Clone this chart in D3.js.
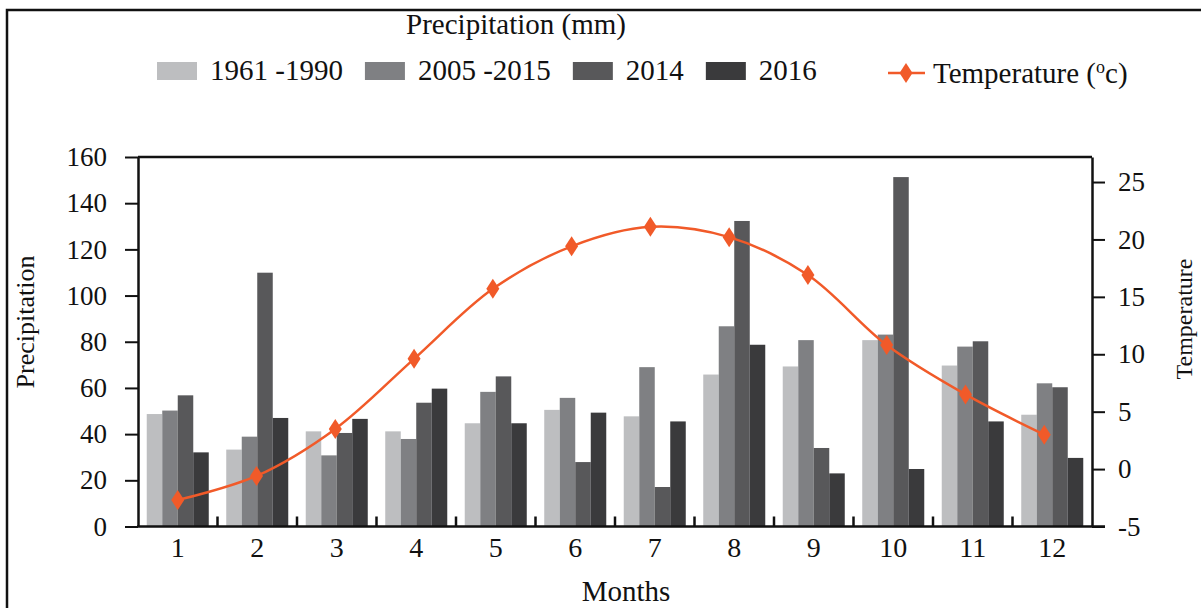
<!DOCTYPE html>
<html>
<head>
<meta charset="utf-8">
<script src="https://cdn.jsdelivr.net/npm/d3@7"></script>
<style>
  html, body { margin: 0; padding: 0; background: #fff; }
  svg { display: block; font-family: "Liberation Serif", "Times New Roman", serif; }
</style>
</head>
<body>
<div id="chart"></div>
<script>
const months = [1, 2, 3, 4, 5, 6, 7, 8, 9, 10, 11, 12];
const seriesNames = ["1961 -1990", "2005 -2015", "2014", "2016"];
const barColors = ["#BDBEC0", "#7F8083", "#58585A", "#3A3A3C"];

// precipitation (mm)
const p1961 = [48.7, 33.3, 41.2, 41.2, 44.7, 50.5, 47.7, 65.8, 69.3, 80.7, 69.7, 48.4];
const p2005 = [50.2, 38.9, 30.8, 37.9, 58.3, 55.7, 69.0, 86.7, 80.7, 83.1, 77.9, 62.0];
const p2014 = [56.8, 109.9, 40.5, 53.6, 65.0, 27.9, 17.1, 132.3, 34.0, 151.3, 80.2, 60.3];
const p2016 = [32.1, 47.0, 46.6, 59.7, 44.7, 49.3, 45.5, 78.7, 23.0, 24.9, 45.5, 29.7];
const precip = [p1961, p2005, p2014, p2016];

// temperature (°C)
const temperature = [-2.7, -0.6, 3.5, 9.6, 15.7, 19.4, 21.1, 20.2, 16.9, 10.8, 6.5, 3.0];

const precipTicks = [0, 20, 40, 60, 80, 100, 120, 140, 160];
const tempTicks = [-5, 0, 5, 10, 15, 20, 25];

const ORANGE = "#F15A29";
const FONT = "Liberation Serif";
const W = 1201, H = 608;
const PLOT = { left: 138, right: 1092, top: 157, bottom: 526.5 };

const svg = d3.select("#chart")
  .append("svg")
  .attr("width", W)
  .attr("height", H)
  .attr("font-family", FONT);

// outer frame (left + top edges visible)
svg.append("path")
  .attr("d", `M7,${H} V10 H${W}`)
  .attr("fill", "none")
  .attr("stroke", "#111")
  .attr("stroke-width", 2.5);

// ── Scales ──
const x = d3.scaleBand()
  .domain(months)
  .range([PLOT.left, PLOT.right])
  .paddingInner(0.22)
  .paddingOuter(0.11);

const xSub = d3.scaleBand()
  .domain(d3.range(seriesNames.length))
  .range([0, x.bandwidth()]);

const y = d3.scaleLinear().domain([0, 160]).range([PLOT.bottom, PLOT.top]);
const yT = d3.scaleLinear().domain([-5, 27.18]).range([PLOT.bottom, PLOT.top]);

// temperature points sit slightly left of the group centres
const xT = d3.scalePoint()
  .domain(months)
  .range([x(1) + x.bandwidth() / 2, x(12) + x.bandwidth() / 2 - 8]);

// ── Bars ──
const groups = svg.append("g").attr("class", "bars")
  .selectAll("g")
  .data(months)
  .join("g")
  .attr("transform", d => `translate(${x(d)},0)`);

groups.selectAll("rect")
  .data((m, i) => precip.map((s, k) => ({ k, v: s[i] })))
  .join("rect")
  .attr("x", d => xSub(d.k))
  .attr("width", xSub.bandwidth())
  .attr("y", d => y(d.v))
  .attr("height", d => y(0) - y(d.v))
  .attr("fill", d => barColors[d.k]);

// ── Temperature line ──
const line = d3.line()
  .x((d, i) => xT(months[i]))
  .y(d => yT(d))
  .curve(d3.curveCatmullRom.alpha(0.5));

svg.append("path")
  .datum(temperature)
  .attr("d", line)
  .attr("fill", "none")
  .attr("stroke", ORANGE)
  .attr("stroke-width", 2.5);

const diamond = (w, h) => `M0,${-h / 2} L${w / 2},0 L0,${h / 2} L${-w / 2},0 Z`;

svg.append("g").selectAll("path")
  .data(temperature)
  .join("path")
  .attr("transform", (d, i) => `translate(${xT(months[i])},${yT(d)})`)
  .attr("d", diamond(13, 20))
  .attr("fill", ORANGE);

// ── Axes ──
const axisLeft = svg.append("g")
  .attr("transform", `translate(${PLOT.left},0)`)
  .call(d3.axisLeft(y).tickValues(precipTicks).tickSize(13).tickSizeOuter(0).tickPadding(18));

const axisRight = svg.append("g")
  .attr("transform", `translate(${PLOT.right},0)`)
  .call(d3.axisRight(yT).tickValues(tempTicks).tickSize(13).tickSizeOuter(0).tickPadding(13)
    .tickFormat(d => d < 0 ? "-" + Math.abs(d) : d));

[axisLeft, axisRight].forEach(a => {
  a.attr("font-family", FONT).attr("font-size", 27);
  a.select(".domain").attr("stroke", "#111").attr("stroke-width", 2.5);
  a.selectAll(".tick line").attr("stroke", "#111").attr("stroke-width", 2);
  a.selectAll(".tick text").attr("fill", "#111");
});

// top edge of plot
svg.append("line")
  .attr("x1", PLOT.left).attr("x2", PLOT.right)
  .attr("y1", PLOT.top).attr("y2", PLOT.top)
  .attr("stroke", "#111").attr("stroke-width", 2.5);

// bottom axis: line, inward ticks between months, labels
svg.append("line")
  .attr("x1", PLOT.left - 1).attr("x2", PLOT.right + 13)
  .attr("y1", PLOT.bottom).attr("y2", PLOT.bottom)
  .attr("stroke", "#111").attr("stroke-width", 2.5);

svg.append("g").selectAll("line")
  .data(months.slice(1))
  .join("line")
  .attr("x1", d => x(d) - x.step() * x.paddingInner() / 2)
  .attr("x2", d => x(d) - x.step() * x.paddingInner() / 2)
  .attr("y1", PLOT.bottom)
  .attr("y2", PLOT.bottom - 10)
  .attr("stroke", "#111")
  .attr("stroke-width", 2.5);

svg.append("g").selectAll("text")
  .data(months)
  .join("text")
  .attr("x", d => x(d) + x.bandwidth() / 2)
  .attr("y", 557)
  .attr("text-anchor", "middle")
  .style("font-size", "28px")
  .attr("fill", "#111")
  .text(d => d);

// ── Axis titles ──
svg.append("text")
  .attr("x", 626).attr("y", 601)
  .attr("text-anchor", "middle")
  .style("font-size", "29px")
  .attr("fill", "#111")
  .text("Months");

svg.append("text")
  .attr("transform", "translate(34,322) rotate(-90)")
  .attr("text-anchor", "middle")
  .style("font-size", "26px")
  .attr("fill", "#111")
  .text("Precipitation");

svg.append("text")
  .attr("transform", "translate(1192,319) rotate(-90)")
  .attr("text-anchor", "middle")
  .style("font-size", "24px")
  .attr("fill", "#111")
  .text("Temperature");

// ── Legend ──
svg.append("text")
  .attr("x", 516).attr("y", 34)
  .attr("text-anchor", "middle")
  .style("font-size", "29px")
  .attr("fill", "#111")
  .text("Precipitation (mm)");

const legend = svg.append("g").attr("class", "legend");
let lx = 157;
seriesNames.forEach((name, k) => {
  legend.append("rect")
    .attr("x", lx).attr("y", 62)
    .attr("width", 40).attr("height", 18)
    .attr("fill", barColors[k]);
  const t = legend.append("text")
    .attr("x", lx + 53).attr("y", 80)
    .style("font-size", "29px")
    .attr("fill", "#111")
    .text(name);
  lx += 53 + t.node().getComputedTextLength() + 22;
});

legend.append("line")
  .attr("x1", 888).attr("x2", 925)
  .attr("y1", 73).attr("y2", 73)
  .attr("stroke", ORANGE).attr("stroke-width", 2.5);
legend.append("path")
  .attr("transform", "translate(906,73)")
  .attr("d", diamond(13, 20))
  .attr("fill", ORANGE);

const tl = legend.append("text")
  .attr("x", 933).attr("y", 83)
  .style("font-size", "29px")
  .attr("fill", "#111");
tl.append("tspan").text("Temperature (");
tl.append("tspan").attr("dy", -10).style("font-size", "18px").text("o");
tl.append("tspan").attr("dy", 10).text("c)");
</script>
</body>
</html>
